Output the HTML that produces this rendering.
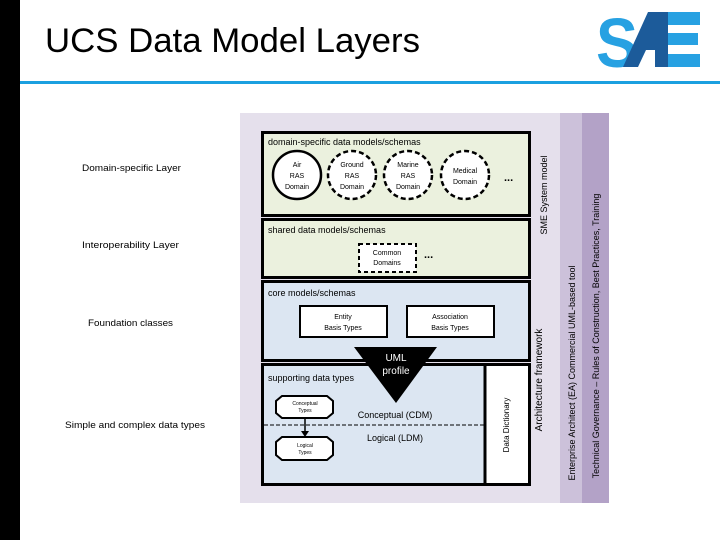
<!DOCTYPE html>
<html><head><meta charset="utf-8"><style>
body{margin:0;width:720px;height:540px;background:#fff;overflow:hidden;font-family:"Liberation Sans",sans-serif;}
</style></head><body>
<svg width="720" height="540" viewBox="0 0 720 540" xmlns="http://www.w3.org/2000/svg" font-family="Liberation Sans, sans-serif">
<rect x="0" y="0" width="20" height="540" fill="#000"/>
<text x="45" y="52" font-size="34" fill="#000" textLength="375" lengthAdjust="spacingAndGlyphs">UCS Data Model Layers</text>
<rect x="20" y="81" width="700" height="3" fill="#1ba0e0"/>
<!-- SAE logo -->
<text x="596" y="67" font-size="70" font-weight="bold" fill="#27a1e2" textLength="42" lengthAdjust="spacingAndGlyphs">S</text>
<polygon points="623,67 648,12 668,12 668,67 655,67 655,50 646,50 638,67" fill="#1c5b9a"/>
<rect x="668" y="12" width="32" height="13" fill="#27a1e2"/>
<rect x="668" y="33" width="30" height="12" fill="#27a1e2"/>
<rect x="668" y="54" width="32" height="13" fill="#27a1e2"/>
<!-- background panels -->
<rect x="240" y="113" width="320" height="390" fill="#e5e0ec"/>
<rect x="560" y="113" width="22" height="390" fill="#ccc1da"/>
<rect x="582" y="113" width="27" height="390" fill="#b3a2c7"/>
<!-- boxes -->
<rect x="262.5" y="132.5" width="267" height="83" fill="#ebf1de" stroke="#000" stroke-width="3"/>
<rect x="262.5" y="219.5" width="267" height="58" fill="#ebf1de" stroke="#000" stroke-width="3"/>
<rect x="262.5" y="281.5" width="267" height="79" fill="#dce6f2" stroke="#000" stroke-width="3"/>
<rect x="262.5" y="364.5" width="267" height="120" fill="#dce6f2" stroke="#000" stroke-width="3"/>
<rect x="485" y="366" width="43" height="117" fill="#fff"/>
<line x1="485" y1="365" x2="485" y2="484" stroke="#000" stroke-width="3"/>
<g font-size="9" fill="#000">
<text x="268" y="145">domain-specific data models/schemas</text>
<text x="268" y="233">shared data models/schemas</text>
<text x="268" y="296">core models/schemas</text>
<text x="268" y="381">supporting data types</text>
</g>
<!-- circles -->
<circle cx="297" cy="175" r="24" fill="#fff" stroke="#000" stroke-width="2.5"/>
<circle cx="352" cy="175" r="24" fill="#fff" stroke="#000" stroke-width="2.5" stroke-dasharray="5,3"/>
<circle cx="408" cy="175" r="24" fill="#fff" stroke="#000" stroke-width="2.5" stroke-dasharray="5,3"/>
<circle cx="465" cy="175" r="24" fill="#fff" stroke="#000" stroke-width="2.5" stroke-dasharray="5,3"/>
<g font-size="7" text-anchor="middle" fill="#000">
<text x="297" y="167">Air</text><text x="297" y="178">RAS</text><text x="297" y="189">Domain</text>
<text x="352" y="167">Ground</text><text x="352" y="178">RAS</text><text x="352" y="189">Domain</text>
<text x="408" y="167">Marine</text><text x="408" y="178">RAS</text><text x="408" y="189">Domain</text>
<text x="465" y="173">Medical</text><text x="465" y="184">Domain</text>
</g>
<text x="504" y="181" font-size="11" font-weight="bold">...</text>
<text x="424" y="258" font-size="11" font-weight="bold">...</text>
<rect x="359" y="244" width="57" height="28" fill="#fff" stroke="#000" stroke-width="2" stroke-dasharray="4,3"/>
<g font-size="7" text-anchor="middle"><text x="387" y="255">Common</text><text x="387" y="265">Domains</text></g>
<rect x="300" y="306" width="87" height="31" fill="#fff" stroke="#000" stroke-width="2"/>
<rect x="407" y="306" width="87" height="31" fill="#fff" stroke="#000" stroke-width="2"/>
<g font-size="7" text-anchor="middle">
<text x="343" y="319">Entity</text><text x="343" y="330">Basis Types</text>
<text x="450" y="319">Association</text><text x="450" y="330">Basis Types</text></g>
<!-- triangle -->
<polygon points="354,347 437,347 396,403" fill="#000"/>
<text x="396" y="361" font-size="10" fill="#fff" text-anchor="middle">UML</text>
<text x="396" y="374" font-size="10" fill="#fff" text-anchor="middle">profile</text>
<!-- dashed line -->
<line x1="264" y1="425" x2="484" y2="425" stroke="#000" stroke-width="1" stroke-dasharray="4,2"/>
<text x="395" y="418" font-size="9" text-anchor="middle">Conceptual (CDM)</text>
<text x="395" y="441" font-size="9" text-anchor="middle">Logical (LDM)</text>
<!-- octagons -->
<polygon points="282,396 327,396 333,401 333,413 327,418 282,418 276,413 276,401" fill="#fff" stroke="#000" stroke-width="2"/>
<polygon points="282,437 327,437 333,442 333,455 327,460 282,460 276,455 276,442" fill="#fff" stroke="#000" stroke-width="2"/>
<line x1="305" y1="418" x2="305" y2="432" stroke="#000" stroke-width="1.5"/>
<polygon points="301,431 309,431 305,437" fill="#000"/>
<g font-size="5" text-anchor="middle">
<text x="305" y="405">Conceptual</text><text x="305" y="412">Types</text>
<text x="305" y="447">Logical</text><text x="305" y="454">Types</text></g>
<!-- vertical texts -->
<text transform="translate(509,425) rotate(-90)" font-size="8" text-anchor="middle">Data Dictionary</text>
<text transform="translate(547,195) rotate(-90)" font-size="9" text-anchor="middle">SME System model</text>
<text transform="translate(542,380) rotate(-90)" font-size="10" text-anchor="middle">Architecture framework</text>
<text transform="translate(575,373) rotate(-90)" font-size="9" text-anchor="middle" fill="#000">Enterprise Architect (EA) Commercial UML-based tool</text>
<text transform="translate(599,336) rotate(-90)" font-size="9" text-anchor="middle" fill="#000">Technical Governance – Rules of Construction, Best Practices, Training</text>
<!-- left labels -->
<g font-size="9.5">
<text x="82" y="171" textLength="99" lengthAdjust="spacingAndGlyphs">Domain-specific Layer</text>
<text x="82" y="248" textLength="97" lengthAdjust="spacingAndGlyphs">Interoperability Layer</text>
<text x="88" y="326" textLength="85" lengthAdjust="spacingAndGlyphs">Foundation classes</text>
<text x="65" y="428" textLength="140" lengthAdjust="spacingAndGlyphs">Simple and complex data types</text>
</g>
</svg>
</body></html>
